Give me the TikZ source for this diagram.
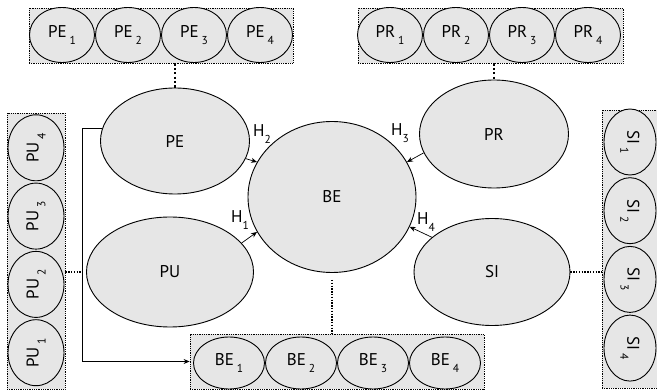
\documentclass[tikz,border=0pt]{standalone}
\usepackage{fontspec}
\setmainfont{PT Sans}
\usetikzlibrary{shapes.geometric,arrows.meta}
\definecolor{lgray}{HTML}{E6E6E6}
\newcommand{\ind}[3][\hspace{3pt}]{#2#1\raisebox{-7pt}{\fontsize{11.5}{11.5}\selectfont #3}}
\begin{document}
\begin{tikzpicture}[x=1pt,y=-1pt,
    latent/.style={ellipse,draw,fill=lgray,line width=0.9pt,inner sep=0pt,font=\fontsize{17}{17}\selectfont},
    item/.style={latent},
    grp/.style={draw,fill=lgray,densely dotted,line width=0.8pt,inner sep=0pt},
    arr/.style={-{Stealth[length=6pt,width=5pt]},line width=0.7pt},
    bigdots/.style={line width=2.2pt,dash pattern=on 2.2pt off 2.2pt},
    smalldots/.style={line width=1.4pt,dash pattern=on 1.4pt off 1.4pt}]
        \useasboundingbox (0,0) rectangle (657,390);
        \clip (0,0) rectangle (657,390);
        \node[grp,minimum width=264pt,minimum height=55pt] (PEg) at (161,35.5) {};
        \node[grp,minimum width=265pt,minimum height=55pt] (PRg) at (490.5,35.5) {};
        \node[grp,minimum width=294pt,minimum height=55pt] (BEg) at (337,361.5) {};
        \node[grp,minimum width=58pt,minimum height=276pt] (PUg) at (36,251) {};
        \node[grp,minimum width=60pt,minimum height=278pt] (SIg) at (632,249) {};
        \foreach \i in {1,...,4} {
          \node[item,minimum width=65pt,minimum height=55pt] (PE\i) at (66*\i-4,35) {\ind{PE}{\i}};
          \node[item,minimum width=65pt,minimum height=55pt] (PR\i) at (66*\i+324,35) {\ind{PR}{\i}};
          \node[item,minimum width=71pt,minimum height=52pt] (BE\i) at (72*\i+157,363) {\ind{BE}{\i}};
          \node[item,rotate=90,minimum width=66pt,minimum height=56pt] (PU\i) at (36,421-68.3*\i) {\ind{PU}{\i}};
          \node[item,rotate=-90,minimum width=66pt,minimum height=52pt] (SI\i) at (630,73.3+68.7*\i) {\ind{SI}{\i}};
        }
        \node[latent,minimum width=149pt,minimum height=106pt] (PE) at (175,141) {PE};
        \node[latent,minimum width=149pt,minimum height=108pt] (PR) at (494,134) {PR};
        \node[latent,minimum width=167pt,minimum height=110pt] (PU) at (170,272) {PU};
        \node[latent,minimum width=156pt,minimum height=107pt] (SI) at (492,272) {SI};
        \node[latent,minimum width=168pt,minimum height=151pt] (BE) at (332,197) {BE};
        \draw[bigdots] (PE.north |- PEg.south) -- (PE.north);
        \draw[bigdots] (PR.north |- PRg.south) -- (PR.north);
        \draw[smalldots,shorten <=7pt] (BE.south) -- (BE.south |- BEg.north);
        \draw[smalldots,shorten >=4pt] (PU.west -| PUg.east) -- (PU.west);
        \draw[smalldots] (SI.east) -- (SI.east -| SIg.west);
        \draw[arr] (PE.170) -- ++(-20,0) |- (BEg.west);
        \draw[arr] (PE.-14) -- (BE.155);
        \draw[arr] (PU.22) -- (BE.205);
        \draw[arr] (PR.195) -- (BE.25);
        \draw[arr] (SI.150) -- (BE.-21);
        \node[font=\fontsize{17}{17}\selectfont] (H1) at (240,220) {\ind[]{H}{1}};
        \node[font=\fontsize{17}{17}\selectfont] (H2) at (262,134) {\ind[]{H}{2}};
        \node[font=\fontsize{17}{17}\selectfont] (H3) at (400,133) {\ind[]{H}{3}};
        \node[font=\fontsize{17}{17}\selectfont] (H4) at (426,222) {\ind[]{H}{4}};
      \end{tikzpicture}
\end{document}
